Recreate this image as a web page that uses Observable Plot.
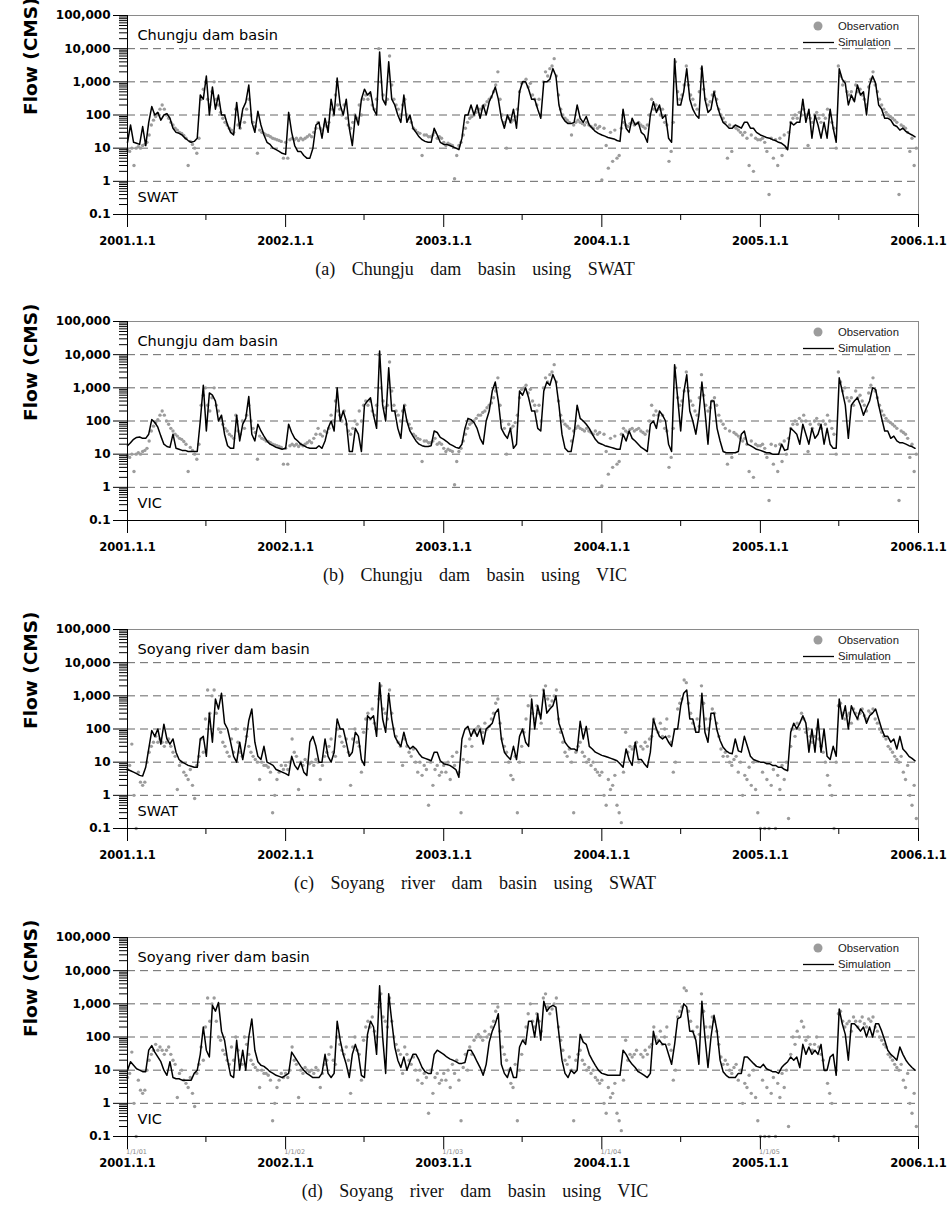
<!DOCTYPE html>
<html><head><meta charset="utf-8">
<script src="https://cdn.jsdelivr.net/npm/d3@7"></script>
<script src="https://cdn.jsdelivr.net/npm/@observablehq/plot@0.6"></script>
<style>
body{margin:0;background:#fff;}
#wrap{position:relative;width:950px;height:1220px;background:#fff;}
.panel{position:absolute;left:0;}
.cap{position:absolute;left:475px;transform:translate(-50%,-50%);font-family:"Liberation Serif","DejaVu Serif",serif;font-size:18px;word-spacing:12px;white-space:nowrap;line-height:1;color:#111;}
</style></head><body><div id="wrap"></div>
<script>
// ---- data: simulated flow, one value per week (52 per year, 2001-2005) ----
const simChungjuSWAT = [
15,50,15,14,13,45,12,60,180,100,120,70,100,110,80,40,30,28,25,20,17,15,16,20,400,300,1500,100,700,150,400,100,100,50,30,25,240,40,150,240,800,60,30,130,50,25,15,13,10,9,8,7,
6.5,120,30,12,8,8,6,5,5,10,50,60,20,80,30,300,100,1300,200,100,300,40,12,100,50,300,600,400,500,150,100,8000,300,200,4000,300,200,100,60,400,60,100,40,30,22,18,16,15,15,40,25,15,
13,13,12,11,10,9,20,100,100,200,100,200,80,200,100,250,400,700,300,80,40,100,60,150,40,500,1000,1000,600,300,300,150,80,1000,1000,1200,2500,1500,200,90,65,55,55,60,200,80,60,90,50,40,32,28,
25,23,21,20,19,17,16,150,40,30,80,50,60,30,25,15,100,250,120,200,80,100,20,15,5000,200,200,500,2500,300,150,100,80,3000,300,120,150,500,200,100,60,50,40,40,50,45,40,60,60,40,40,30,
25,23,21,20,18,17,15,14,12,9,60,50,60,60,300,60,150,20,100,50,20,60,20,150,40,15,2500,1200,900,200,400,250,800,400,500,100,800,1500,900,200,150,80,80,70,50,45,35,40,32,28,25,22];
const simChungjuVIC = [
18,22,28,32,33,30,30,40,110,90,65,35,20,17,16,40,15,14,13,13,12,12,12,12,100,1200,50,700,600,400,100,150,40,18,15,15,150,25,80,120,550,40,25,80,50,35,25,20,18,16,15,14,
15,80,45,30,25,20,18,16,15,15,15,18,15,25,60,100,50,1000,100,200,100,12,12,60,40,12,300,400,500,150,60,13000,300,100,4000,200,200,60,30,300,100,50,35,25,20,18,17,17,18,50,45,32,
28,24,20,18,16,15,20,60,120,110,90,60,30,20,100,200,800,1500,400,60,40,30,60,15,20,800,600,1000,500,200,200,60,50,800,1500,1200,2500,1500,300,40,15,12,12,40,300,120,100,80,60,40,28,22,
20,18,17,16,15,14,14,40,25,50,30,25,20,16,14,12,80,100,60,200,150,100,20,12,5000,500,50,700,2500,200,100,40,150,1500,200,20,400,400,60,25,12,11,11,11,11,12,40,50,20,18,16,14,
13,12,11,11,10,10,10,20,13,14,60,50,40,20,80,40,20,60,30,40,80,20,60,20,15,15,2000,800,300,30,300,400,500,300,150,250,400,1000,900,300,120,50,50,30,35,25,22,22,20,18,17,15];
const simSoyangSWAT = [
6,5.5,5,4.5,4,3.8,7,25,90,60,100,35,140,50,35,50,20,12,10,9,8,7.5,7,7,50,60,15,300,40,800,400,1200,150,100,40,15,10,40,12,40,180,400,40,15,12,30,10,9,8,6,5.5,5,
4.5,4,15,8,6,10,5,4,40,60,30,10,10,50,15,10,20,200,100,100,40,15,20,80,60,12,8,250,200,250,60,2500,200,80,1200,200,60,40,30,80,35,25,30,25,18,14,13,12,11,20,20,11,
9,8.5,8,7,6,3.5,50,100,120,60,100,60,100,35,100,120,150,300,400,50,20,15,12,30,12,60,100,40,30,800,100,500,200,1500,300,400,500,1000,150,80,40,30,25,25,22,170,50,120,30,25,20,18,
16,15,14,13,12,11,9,7,25,12,8,40,12,12,9,7,20,200,100,60,50,60,40,30,100,100,500,1200,1500,200,200,80,80,1200,80,40,300,300,90,45,28,22,19,18,50,22,20,60,30,15,12,11,
10,10,9,9,8,8,7,7,6,5.5,80,150,100,150,250,150,20,100,20,200,20,100,15,12,30,15,800,200,500,100,500,300,200,400,300,150,250,300,400,200,100,60,60,40,50,25,60,25,20,15,13,11];
const simSoyangVIC = [
10,18,14,11,10,9,9,40,55,35,25,18,10,7,18,6,5.5,5.5,5,5,5,5,8,10,30,200,40,25,900,600,1100,150,80,20,7,6,80,10,40,10,100,350,40,18,14,13,11,9,8,7,6.5,6,
7,8,35,25,18,13,10,8,7,6,6,6,8,30,8,6,8,300,80,30,15,6,30,60,30,7,6,120,300,200,30,3500,100,8,2000,300,50,20,12,25,10,18,30,30,20,12,9,8,8,30,40,35,
30,25,22,20,18,16,16,17,40,40,28,18,12,7,15,70,150,250,500,15,8,6,12,6,6,50,80,60,300,300,100,500,80,1200,600,800,900,800,120,20,8,6,10,8,10,120,70,60,30,20,14,10,
8,7.5,7,7,7,7,7,40,30,20,15,12,9,8,7,6,8,150,60,80,60,60,30,15,60,350,400,1000,800,150,150,80,15,1200,100,12,100,450,150,20,9,7,6,6,6,8,8,25,25,20,16,13,
12,15,11,10,9,9,8,12,15,18,25,20,25,12,60,30,50,30,40,30,60,10,10,25,30,7,700,250,120,20,250,250,200,150,200,100,200,100,250,250,150,80,40,30,25,20,50,30,20,15,12,10];

// ---- data: observed flow, one value every 5 days (73 per year, 2001-2005) ----
const obsChungju = [
9,8,10,3,10,11,10,12,13,15,25,50,70,90,110,150,200,150,100,80,60,50,40,35,30,28,24,20,3,16,13,10,7,20,300,600,1000,300,200,500,1000,300,200,120,80,60,50,40,35,30,150,50,40,100,60,150,300,100,60,45,7,35,30,28,25,24,22,20,19,18,17,16,5,
15,5,18,20,18,20,17,20,18,20,22,25,22,30,40,60,40,35,50,45,60,150,100,400,200,150,100,200,80,50,40,60,100,80,200,100,300,400,300,400,200,150,300,10000,1000,400,250,300,6000,800,300,200,150,100,200,300,100,80,60,40,35,30,28,6,25,25,22,22,25,30,20,22,20,
15,12,14,13,12,1.2,6,12,15,25,40,60,80,90,100,120,150,150,180,200,250,300,350,500,800,2000,300,100,60,10,80,60,70,90,150,500,900,1000,1200,700,900,400,300,200,300,100,1000,2000,1500,2500,3000,5000,1500,400,150,100,80,70,60,25,50,60,70,60,55,50,60,50,45,40,50,40,45,
1.1,40,12,2.5,30,4,35,5,6,40,60,50,45,55,60,50,55,60,50,45,40,50,100,300,150,200,150,100,150,60,50,4,8,60,4000,500,300,400,800,3000,800,400,300,200,150,500,2500,600,300,200,250,400,500,300,150,100,80,60,5,50,8,45,40,35,30,25,30,20,3,25,2,20,18,
18,20,15,8,0.4,20,5,18,3,20,6,25,10,30,60,80,100,80,120,100,150,100,12,80,60,100,120,80,60,100,80,150,100,60,40,10,3000,1500,800,1000,500,400,500,300,800,500,600,400,300,200,700,1200,2000,800,500,300,200,150,120,100,90,80,70,60,0.4,50,45,40,30,8,20,3,10];
const obsSoyang = [
6,8,35,1,0.1,5,2.5,2,2.5,10,20,30,40,60,40,50,40,30,40,50,30,20,15,1.5,8,10,5,4,3,6,2,0.8,8,15,50,20,200,1500,300,1000,1500,300,100,80,40,30,20,15,50,20,100,40,20,15,100,60,30,20,15,12,10,3,10,8,8,7,5,0.3,1,3,5,8,6,
8,6,10,50,20,15,1.5,10,8,12,10,9,10,8,12,10,3,8,15,20,30,50,20,15,100,60,40,30,50,20,2,50,100,40,30,5,80,200,300,200,400,150,100,800,2000,400,300,200,1500,300,100,60,40,30,8,50,30,20,15,25,10,5,10,4,8,6,0.5,10,2,6,8,4,5,
8,5,10,3,15,8,20,5,0.3,12,30,10,50,30,80,100,120,100,80,150,100,120,200,300,600,800,150,50,30,20,10,4,3,15,0.3,10,30,80,200,500,1000,300,200,500,300,150,1500,2000,800,500,700,1000,1500,200,80,40,20,15,25,10,0.3,20,30,40,20,15,10,12,8,10,6,5,4,
5,1,0.5,3,1.5,2,4,0.5,0.3,0.15,5,80,20,30,25,30,40,10,30,25,40,30,50,60,200,100,80,150,60,100,200,60,40,5,10,400,600,800,3000,2500,600,300,150,100,200,120,2000,600,200,100,200,400,300,150,60,25,15,20,15,10,8,12,15,5,10,1,4,3,7,2,10,1.5,0.3,
0.1,5,0.1,3,0.1,2,6,0.1,4,1.5,8,3,10,0.2,30,100,60,150,100,300,200,80,100,60,40,60,100,50,30,20,10,4,2,1,0.1,10,500,600,300,200,250,300,150,400,300,200,300,400,250,200,350,300,400,200,150,100,80,60,50,30,25,20,15,12,10,15,5,3,8,1,0.5,2,0.2];

// ---- labels and ticks ----
const years = [2001, 2002, 2003, 2004, 2005, 2006];
const yMajor = [0.1, 1, 10, 100, 1000, 10000, 100000];
const yGrid = [1, 10, 100, 1000, 10000];
const stampLabels = ["1/1/01", "1/1/02", "1/1/03", "1/1/04", "1/1/05"];
const panels = [
  {sim: simChungjuSWAT, obs: obsChungju, basin: "Chungju dam basin", model: "SWAT", caption: "(a) Chungju dam basin using SWAT", stamps: false},
  {sim: simChungjuVIC, obs: obsChungju, basin: "Chungju dam basin", model: "VIC", caption: "(b) Chungju dam basin using VIC", stamps: false},
  {sim: simSoyangSWAT, obs: obsSoyang, basin: "Soyang river dam basin", model: "SWAT", caption: "(c) Soyang river dam basin using SWAT", stamps: false},
  {sim: simSoyangVIC, obs: obsSoyang, basin: "Soyang river dam basin", model: "VIC", caption: "(d) Soyang river dam basin using VIC", stamps: true}
];

const yearTicks = years.map(y => new Date(Date.UTC(y, 0, 1)));
const midTicks = years.slice(0, 5).map(y => new Date(Date.UTC(y, 6, 1)));
const yMinor = [];
for (const d of [0.1, 1, 10, 100, 1000, 10000]) for (let m = 2; m <= 9; m++) yMinor.push(+(m * d).toPrecision(3));
const simDate = i => new Date(Date.UTC(2001 + Math.floor(i / 52), 0, 1 + 7 * (i % 52)));
const obsDate = i => new Date(Date.UTC(2001 + Math.floor(i / 73), 0, 1 + 5 * (i % 73)));
const fmt = d3.format(",");
const SANS = "'DejaVu Sans', Verdana, sans-serif";

function makePlot(p) {
  const sim = p.sim.map((v, i) => ({date: simDate(i), v}));
  const obs = p.obs.map((v, i) => ({date: obsDate(i), v}));
  const marks = [
    Plot.ruleY(yGrid, {stroke: "#666", strokeWidth: 1, strokeDasharray: "8,5"}),
    Plot.ruleY([100000], {stroke: "#8a8a8a"}),
    Plot.ruleX([yearTicks[5]], {stroke: "#8a8a8a"}),
    Plot.dot(obs, {x: "date", y: "v", r: 1.7, fill: "#9c9c9c", stroke: "none"}),
    Plot.line(sim, {x: "date", y: "v", stroke: "#000", strokeWidth: 1.5}),
    Plot.ruleX([yearTicks[0]], {stroke: "#000"}),
    Plot.ruleY([0.1], {stroke: "#000"}),
    Plot.axisY(yMinor, {tickSize: 8, tickFormat: () => "", label: null}),
    Plot.axisY(yMajor, {tickSize: 14, tickPadding: 3, tickFormat: d => fmt(d), fontWeight: "bold", fontSize: 12, fontFamily: SANS, label: null}),
    Plot.axisX(midTicks, {tickSize: 6, tickFormat: () => "", label: null}),
    Plot.axisX(yearTicks, {tickSize: 13, tickPadding: 9, tickFormat: d => `${d.getUTCFullYear()}.1.1`, fontWeight: "bold", fontSize: 11.5, fontFamily: SANS, label: null}),
    Plot.text([p.basin], {text: d => d, frameAnchor: "top-left", dx: 10, dy: 20, lineAnchor: "middle", fontSize: 14.5, fontFamily: SANS}),
    Plot.text([p.model], {text: d => d, frameAnchor: "bottom-left", dx: 10, dy: -17, lineAnchor: "middle", fontSize: 14.5, fontFamily: SANS}),
    Plot.text(["Flow (CMS)"], {text: d => d, frameAnchor: "left", dx: -96, rotate: -90, lineAnchor: "middle", fontSize: 18.5, fontWeight: "bold", fontFamily: SANS})
  ];
  if (p.stamps) {
    marks.push(Plot.text(yearTicks.slice(0, 5), {x: d => d, y: 0.1, text: (d, i) => stampLabels[i], dy: 15, dx: 9, fontSize: 6.5, fill: "#8a8a8a", fontFamily: SANS}));
  }
  return Plot.plot({
    width: 950, height: 265,
    marginLeft: 127, marginRight: 32, marginTop: 15, marginBottom: 51,
    style: {background: "transparent", overflow: "visible", fontFamily: SANS},
    x: {type: "utc", domain: [yearTicks[0], yearTicks[5]]},
    y: {type: "log", domain: [0.1, 100000]},
    marks
  });
}

const wrap = document.getElementById("wrap");
const tops = [0, 306, 614, 922];
panels.forEach((p, i) => {
  const T = tops[i];
  const div = document.createElement("div");
  div.className = "panel";
  div.style.top = T + "px";
  div.appendChild(makePlot(p));
  wrap.appendChild(div);

  // legend (swatches + labels), placed at the top-right of the frame
  const L = 790;
  const leg = d3.create("svg").attr("width", 125).attr("height", 55)
    .style("position", "absolute").style("left", L + "px").style("top", T + "px");
  leg.append("circle").attr("cx", 818 - L).attr("cy", 26).attr("r", 4.5).attr("fill", "#9c9c9c");
  leg.append("text").attr("x", 838 - L).attr("y", 26).attr("dy", "0.35em")
    .attr("font-family", "'Liberation Sans', Arial, sans-serif").attr("font-size", 11.3).attr("fill", "#222").text("Observation");
  leg.append("line").attr("x1", 803 - L).attr("x2", 834 - L).attr("y1", 42.5).attr("y2", 42.5).attr("stroke", "#000").attr("stroke-width", 1.3);
  leg.append("text").attr("x", 838 - L).attr("y", 42).attr("dy", "0.35em")
    .attr("font-family", "'Liberation Sans', Arial, sans-serif").attr("font-size", 11.3).attr("fill", "#222").text("Simulation");
  wrap.appendChild(leg.node());

  const cap = document.createElement("div");
  cap.className = "cap";
  cap.style.top = (T + 269) + "px";
  cap.textContent = p.caption;
  wrap.appendChild(cap);
});
</script></body></html>
